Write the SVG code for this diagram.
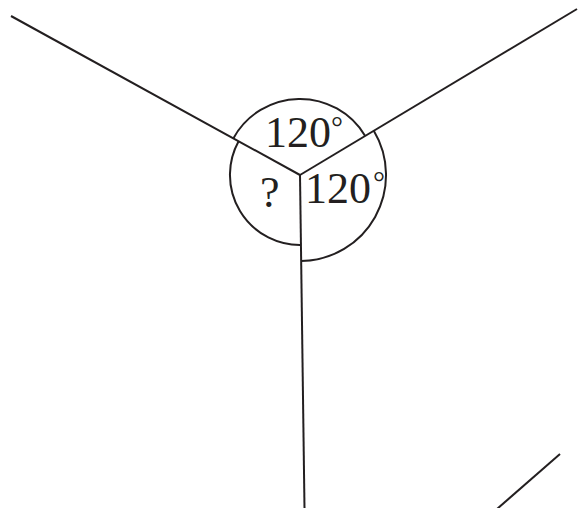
<svg xmlns="http://www.w3.org/2000/svg" width="578" height="508" viewBox="0 0 578 508">
<style>
.ln{stroke:#231f20;stroke-width:2;fill:none;stroke-linecap:butt}
.t{font-family:"Liberation Serif","Times New Roman",serif;font-size:44px;fill:#231f20}
.deg{font-family:"Liberation Serif","Times New Roman",serif;font-size:30px;fill:#231f20}
</style>
<rect width="578" height="508" fill="#ffffff"/>
<g id="connectors">
<line class="ln" x1="11" y1="16" x2="300" y2="175"/>
<line class="ln" x1="300" y1="175" x2="577" y2="9"/>
<line class="ln" x1="300" y1="175" x2="304.5" y2="508"/>
<line class="ln" x1="560" y1="454" x2="497" y2="509"/>
</g>
<g id="angle-top">
<path class="ln" d="M233.3,138.4 A76,76 0 0 1 365.2,135.9"/>
<text class="t" x="265" y="147">120</text>
<text class="deg" x="331" y="137">°</text>
</g>
<g id="angle-right">
<path class="ln" d="M373.8,130.8 A86,86 0 0 1 301.2,261"/>
<text class="t" x="305" y="203">120</text>
<text class="deg" x="373" y="192">°</text>
</g>
<g id="angle-left">
<path class="ln" d="M301,245 A70,70 0 0 1 238.6,141.3"/>
<text class="t" x="260" y="207">?</text>
</g>
</svg>
